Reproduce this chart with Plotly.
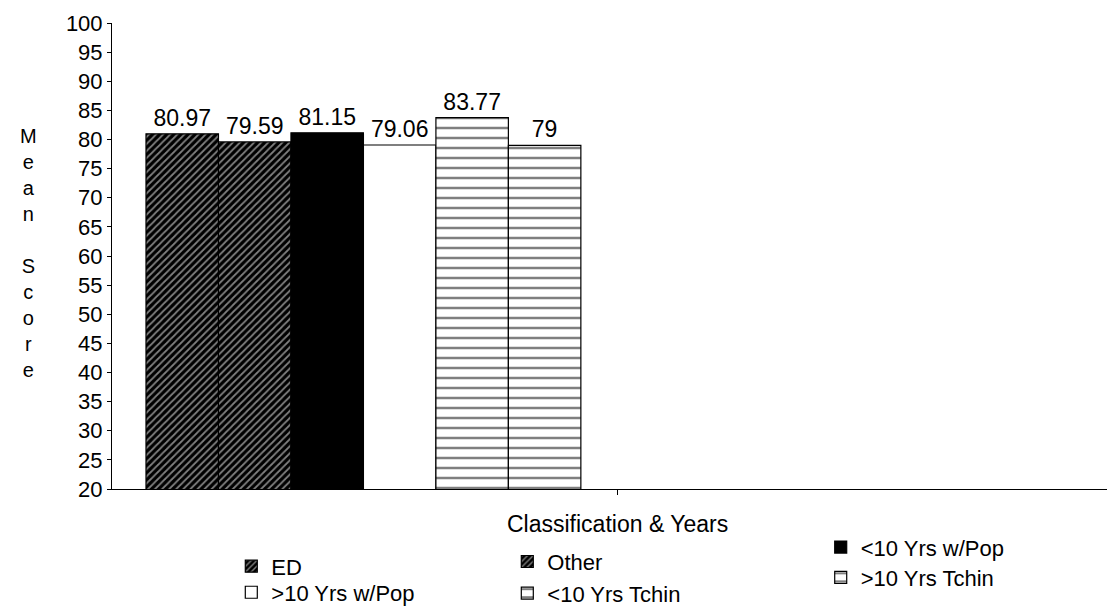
import plotly.graph_objects as go

categories = ["ED", "Other", "<10 Yrs w/Pop", ">10 Yrs w/Pop", "<10 Yrs Tchin", ">10 Yrs Tchin"]
values = [80.97, 79.59, 81.15, 79.06, 83.77, 79]
labels = ["80.97", "79.59", "81.15", "79.06", "83.77", "79"]
y_ticks = list(range(20, 101, 5))

FONT = "Arial, Liberation Sans, sans-serif"

diag = dict(shape="/", fgcolor="white", bgcolor="black", size=5, solidity=0.35)
horiz = dict(shape="-", fgcolor="black", bgcolor="white", size=10, solidity=0.25)
styles = [
    dict(color="black", pattern=diag),
    dict(color="black", pattern=diag),
    dict(color="black"),
    dict(color="white"),
    dict(color="white", pattern=horiz),
    dict(color="white", pattern=horiz),
]

legend_pos = [
    (0.118, -0.166),  # ED
    (0.391, -0.156),  # Other
    (0.701, -0.125),  # <10 Yrs w/Pop
    (0.118, -0.222),  # >10 Yrs w/Pop
    (0.391, -0.224),  # <10 Yrs Tchin
    (0.701, -0.190),  # >10 Yrs Tchin
]
legend_ids = ["legend", "legend2", "legend3", "legend4", "legend5", "legend6"]

fig = go.Figure()
for i, (cat, v, lab, st) in enumerate(zip(categories, values, labels, styles)):
    marker = dict(line=dict(color="black", width=1.2), **st)
    fig.add_trace(go.Bar(
        x=[i], y=[v], width=1, name=cat, marker=marker,
        text=[lab], textposition="outside", cliponaxis=False,
        textfont=dict(family=FONT, size=23, color="black"),
        legend=legend_ids[i],
    ))

layout_legends = {}
for lid, (lx, ly) in zip(legend_ids, legend_pos):
    layout_legends[lid] = dict(
        x=lx, xanchor="left", y=ly, yanchor="middle",
        bgcolor="rgba(0,0,0,0)",
        font=dict(family=FONT, size=22, color="black"),
    )

fig.update_layout(
    width=1115, height=608,
    margin=dict(l=104, r=0, t=15, b=127, autoexpand=False),
    plot_bgcolor="white", paper_bgcolor="white",
    barmode="overlay",
    font=dict(family=FONT, size=22, color="black"),
    showlegend=True,
    xaxis=dict(
        range=[-0.969, 12.98], showgrid=False, zeroline=False, automargin=False,
        showline=True, linecolor="black", linewidth=1,
        tickvals=[6], ticktext=[""], ticks="outside", ticklen=5, tickcolor="black",
    ),
    yaxis=dict(
        range=[20, 100], tickvals=y_ticks, showgrid=False, zeroline=False, automargin=False,
        showline=True, linecolor="black", linewidth=1,
        ticks="outside", ticklen=4, tickcolor="black",
        tickfont=dict(family=FONT, size=22, color="black"),
    ),
    annotations=[
        dict(text="Classification & Years", xref="paper", yref="paper",
             x=0.5, y=-0.075, xanchor="center", yanchor="middle", showarrow=False,
             font=dict(family=FONT, size=23, color="black")),
        dict(text="M<br>e<br>a<br>n<br> <br>S<br>c<br>o<br>r<br>e", xref="paper", yref="paper",
             x=-0.083, y=0.506, xanchor="center", yanchor="middle", showarrow=False,
             font=dict(family=FONT, size=20, color="black")),
    ],
    **layout_legends,
)

fig.write_html("out.html")
